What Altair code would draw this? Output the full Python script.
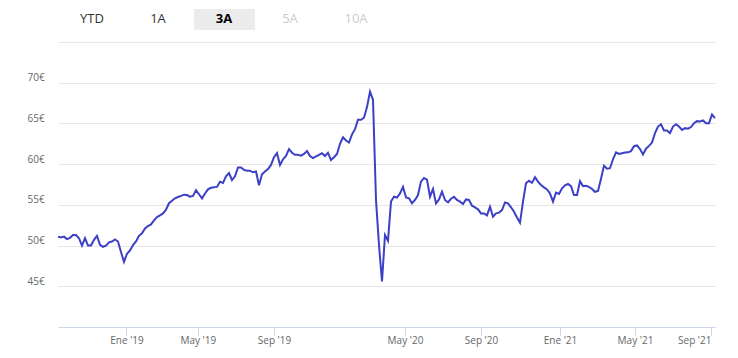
import altair as alt
import pandas as pd

# Precio de cierre (EUR), muestreado a intervalos regulares de sesiones (eje ordinal)
precio = [
    51.1, 51.0, 51.1, 50.8, 50.95, 51.3, 51.3, 50.9, 50.0, 50.9,
    50.0, 50.0, 50.7, 51.2, 50.1, 49.85, 50.0, 50.4, 50.5, 50.75,
    50.5, 49.2, 48.0, 49.0, 49.4, 50.05, 50.5, 51.2, 51.5, 52.1,
    52.4, 52.6, 53.1, 53.5, 53.7, 53.95, 54.4, 55.2,
    55.5, 55.8, 55.96, 56.1, 56.25, 56.2, 56.0, 56.1, 56.8, 56.3,
    55.8, 56.4, 56.9, 57.1, 57.15, 57.2, 57.85, 57.7, 58.5, 58.9,
    58.05, 58.5, 59.6, 59.6, 59.3, 59.2, 59.2, 59.0, 59.1, 57.4,
    58.75, 59.1, 59.4, 59.9, 60.85,
    61.35, 59.9, 60.6, 61.0, 61.85, 61.4, 61.15, 61.15, 61.05, 61.25,
    61.6, 61.0, 60.75, 60.95, 61.15, 61.35, 61.0, 61.4, 60.5, 60.85,
    61.25, 62.5, 63.3, 62.9, 62.65, 63.65, 64.3, 65.45, 65.45, 65.7,
    67.0, 68.9, 67.9,
    55.6, 50.05, 45.6, 51.3, 50.6, 55.4, 56.0, 55.9, 56.4, 57.2,
    55.9, 55.8, 55.2, 55.6, 56.2, 57.85, 58.3,
    58.1, 56.0, 56.95, 55.18, 55.67, 56.62, 55.6, 55.3, 55.75, 56.0,
    55.6, 55.4, 55.1, 55.67, 55.6, 54.9, 54.7, 54.45, 53.95, 53.95,
    53.7, 54.77, 53.54, 53.95, 54.05, 54.36, 55.3, 55.18, 54.7, 54.15,
    53.45, 52.8, 55.4, 57.64, 57.97, 57.7, 58.4, 57.85, 57.44, 57.15,
    56.9, 56.41, 55.4, 56.5, 56.33, 57.03, 57.4, 57.56, 57.3, 56.2,
    56.2,
    57.9, 57.3, 57.35, 57.2, 56.95, 56.6, 56.7, 58.2, 59.8, 59.45,
    59.5, 60.6, 61.45, 61.25, 61.34, 61.42, 61.45, 61.6, 62.2, 62.3,
    61.85, 61.2, 61.9, 62.24, 62.65, 63.8, 64.62, 64.9, 64.13, 64.13,
    63.8, 64.62, 64.9, 64.62, 64.2, 64.42, 64.35, 64.55, 65.03, 65.28,
    65.24, 65.36, 65.03, 65.03, 66.1, 65.65,
]

# Posiciones (en puntos de muestreo) de los inicios de mes etiquetados
tick_pos = [22.83, 46.6, 72.0, 115.67, 141.0, 167.33, 192.33, 217.67]
tick_lab = ["Ene '19", "May '19", "Sep '19", "May '20", "Sep '20", "Ene '21", "May '21", "Sep '21"]
y_ticks = [45, 50, 55, 60, 65, 70, 75]

botones = ["YTD", "1A", "3A", "5A", "10A"]
boton_color = ["#333333", "#333333", "#000000", "#cccccc", "#cccccc"]
activo = "3A"

df = pd.DataFrame({"i": list(range(len(precio))), "precio": precio})
bdf = pd.DataFrame({"boton": botones})

vals_js = "[" + ",".join(str(v) for v in tick_pos) + "]"
labs_js = "[" + ",".join('"' + l + '"' for l in tick_lab) + "]"
x_label_expr = f"{labs_js}[indexof({vals_js}, datum.value)]"

FONT = "Open Sans"

line = alt.Chart(df).mark_line(color="#3c40c6", strokeWidth=2).encode(
    x=alt.X(
        "i:Q",
        scale=alt.Scale(domain=[0, len(precio) - 1], nice=False, zero=False),
        axis=alt.Axis(
            values=tick_pos,
            labelExpr=x_label_expr,
            title=None,
            grid=False,
            domainColor="#ccd6eb",
            tickColor="#ccd6eb",
            tickSize=8,
            labelColor="#666666",
            labelFontSize=10,
            labelPadding=0,
            labelFlush=10,
            labelFont=FONT,
        ),
    ),
    y=alt.Y(
        "precio:Q",
        scale=alt.Scale(domain=[40, 75], nice=False, zero=False),
        axis=alt.Axis(
            values=y_ticks,
            labelExpr="datum.value == 75 ? '' : datum.value + '€'",
            title=None,
            domain=False,
            ticks=False,
            tickSize=0,
            gridColor="#e6e6e6",
            labelAlign="left",
            labelPadding=31,
            labelBaseline="alphabetic",
            labelOffset=-2,
            labelColor="#666666",
            labelFontSize=10,
            labelFont=FONT,
        ),
    ),
)

sel_bg = alt.Chart(pd.DataFrame({"boton": [activo]})).mark_rect(color="#ececec").encode(
    x=alt.value(136), x2=alt.value(197), y=alt.value(-33), y2=alt.value(-12)
)

xb = alt.X("boton:N", scale=alt.Scale(type="point", domain=botones, range=[34, 298], padding=0), axis=None)
cb = alt.Color("boton:N", scale=alt.Scale(domain=botones, range=boton_color), legend=None)

btn_normal = alt.Chart(bdf).transform_filter(alt.datum.boton != activo).mark_text(
    font=FONT, fontSize=13, baseline="middle", align="center"
).encode(x=xb, y=alt.value(-23), text="boton:N", color=cb)

btn_bold = alt.Chart(bdf).transform_filter(alt.datum.boton == activo).mark_text(
    font=FONT, fontSize=13, fontWeight="bold", baseline="middle", align="center"
).encode(x=xb, y=alt.value(-23), text="boton:N", color=cb)

chart = alt.layer(line, sel_bg, btn_normal, btn_bold).resolve_scale(
    x="independent"
).properties(
    width=657,
    height=285,
    autosize=alt.AutoSizeParams(type="none"),
    padding={"left": 50, "top": 34, "right": 10, "bottom": 23},
).configure(background="white", view=alt.ViewConfig(stroke=None))

chart.save("out.html", embed_options={"renderer": "svg", "actions": False})
